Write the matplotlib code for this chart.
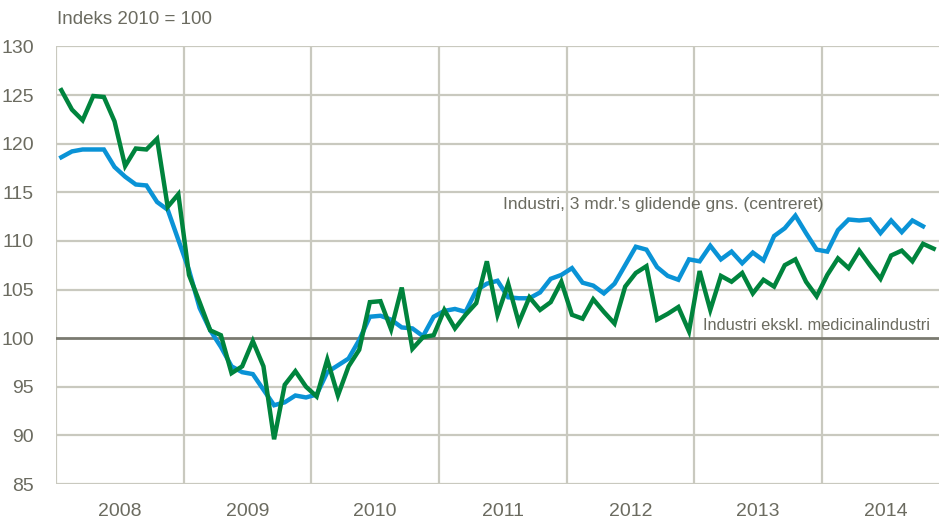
import matplotlib
matplotlib.use("Agg")
import matplotlib.pyplot as plt
import numpy as np

years = ["2008", "2009", "2010", "2011", "2012", "2013", "2014"]

# Industri ekskl. medicinalindustri (monthly), Jan 2008 - Nov 2014
green = [
    125.5, 123.5, 122.4, 124.9, 124.8, 122.3, 117.7, 119.5, 119.4, 120.5, 113.5, 114.8,
    106.5, 103.7, 100.8, 100.3, 96.4, 97.1, 99.7, 97.1, 89.6, 95.2, 96.6, 95.0,
    94.0, 97.8, 94.1, 97.1, 98.8, 103.7, 103.8, 100.9, 105.2, 98.9, 100.1, 100.3,
    102.9, 101.0, 102.4, 103.6, 107.9, 102.4, 105.6, 101.6, 104.2, 102.9, 103.7, 105.8,
    102.4, 102.0, 104.0, 102.7, 101.5, 105.3, 106.7, 107.4, 101.9, 102.5, 103.2, 100.7,
    106.9, 102.9, 106.4, 105.8, 106.7, 104.6, 106.0, 105.3, 107.5, 108.1, 105.8, 104.3,
    106.5, 108.2, 107.2, 109.0, 107.5, 106.1, 108.5, 109.0, 107.9, 109.7, 109.2,
]

# Industri, 3 mdr.'s glidende gns. (centreret), Jan 2008 - Oct 2014
blue = [
    118.6, 119.2, 119.4, 119.4, 119.4, 117.6, 116.6, 115.8, 115.7, 114.0, 113.2, 110.1,
    107.0, 103.1, 100.8, 99.1, 97.1, 96.5, 96.3, 94.7, 93.1, 93.4, 94.1, 93.9,
    94.2, 96.5, 97.2, 97.9, 99.8, 102.2, 102.3, 101.9, 101.1, 101.0, 100.2, 102.2,
    102.8, 103.0, 102.7, 104.9, 105.6, 105.9, 104.2, 104.1, 104.1, 104.7, 106.1, 106.5,
    107.2, 105.7, 105.4, 104.6, 105.6, 107.5, 109.4, 109.1, 107.3, 106.4, 106.0, 108.1,
    107.9, 109.5, 108.1, 108.9, 107.7, 108.8, 108.0, 110.5, 111.3, 112.6, 110.8, 109.1,
    108.9, 111.1, 112.2, 112.1, 112.2, 110.8, 112.1, 110.9, 112.1, 111.5,
]

yticks = [85, 90, 95, 100, 105, 110, 115, 120, 125, 130]

FONT = ["Liberation Sans Narrow", "Liberation Sans", "DejaVu Sans"]
TXT = "#6b6b60"
GRID = "#c9c9bf"

plt.rcParams["font.family"] = FONT

fig = plt.figure(figsize=(9.39, 5.19), dpi=100)
ax = fig.add_axes([56 / 939, (519 - 484) / 519, (939 - 56) / 939, (484 - 46.4) / 519])

xg = np.arange(len(green)) + 0.5
xb = np.arange(len(blue)) + 0.5

ax.set_xlim(0, 83)
ax.set_ylim(85, 130)

# grid
for v in yticks:
    if v == 100:
        continue
    ax.axhline(v, color=GRID, lw=1.6, zorder=1)
for i in range(len(years)):
    ax.axvline(i * 12, color=GRID, lw=1.6, zorder=1)
ax.axhline(100, color="#7a7a70", lw=2.0, zorder=2)

ax.plot(xb, blue, color="#0a93d6", lw=3.2, zorder=3, solid_joinstyle="miter")
ax.plot(xg, green, color="#00843d", lw=3.2, zorder=4, solid_joinstyle="miter")

for s in ax.spines.values():
    s.set_visible(False)

ax.set_yticks(yticks)
ax.set_yticklabels([str(v) for v in yticks])
ax.set_xticks([i * 12 + 6 for i in range(len(years))])
ax.set_xticklabels(years)
ax.tick_params(axis="both", length=0, labelsize=14, labelcolor=TXT)
ax.tick_params(axis="y", pad=16)
ax.tick_params(axis="x", pad=14)

fig.text(57 / 939, 1 - 20 / 519, "Indeks 2010 = 100", fontsize=13.5, color=TXT,
         ha="left", va="center")

ax.text(41.97, 113.7, "Industri, 3 mdr.'s glidende gns. (centreret)", fontsize=12.5,
        color=TXT, ha="left", va="center", zorder=5)
ax.text(60.8, 101.3, "Industri ekskl. medicinalindustri", fontsize=11.8,
        color=TXT, ha="left", va="center", zorder=5)

fig.savefig("out.png", dpi=100)
